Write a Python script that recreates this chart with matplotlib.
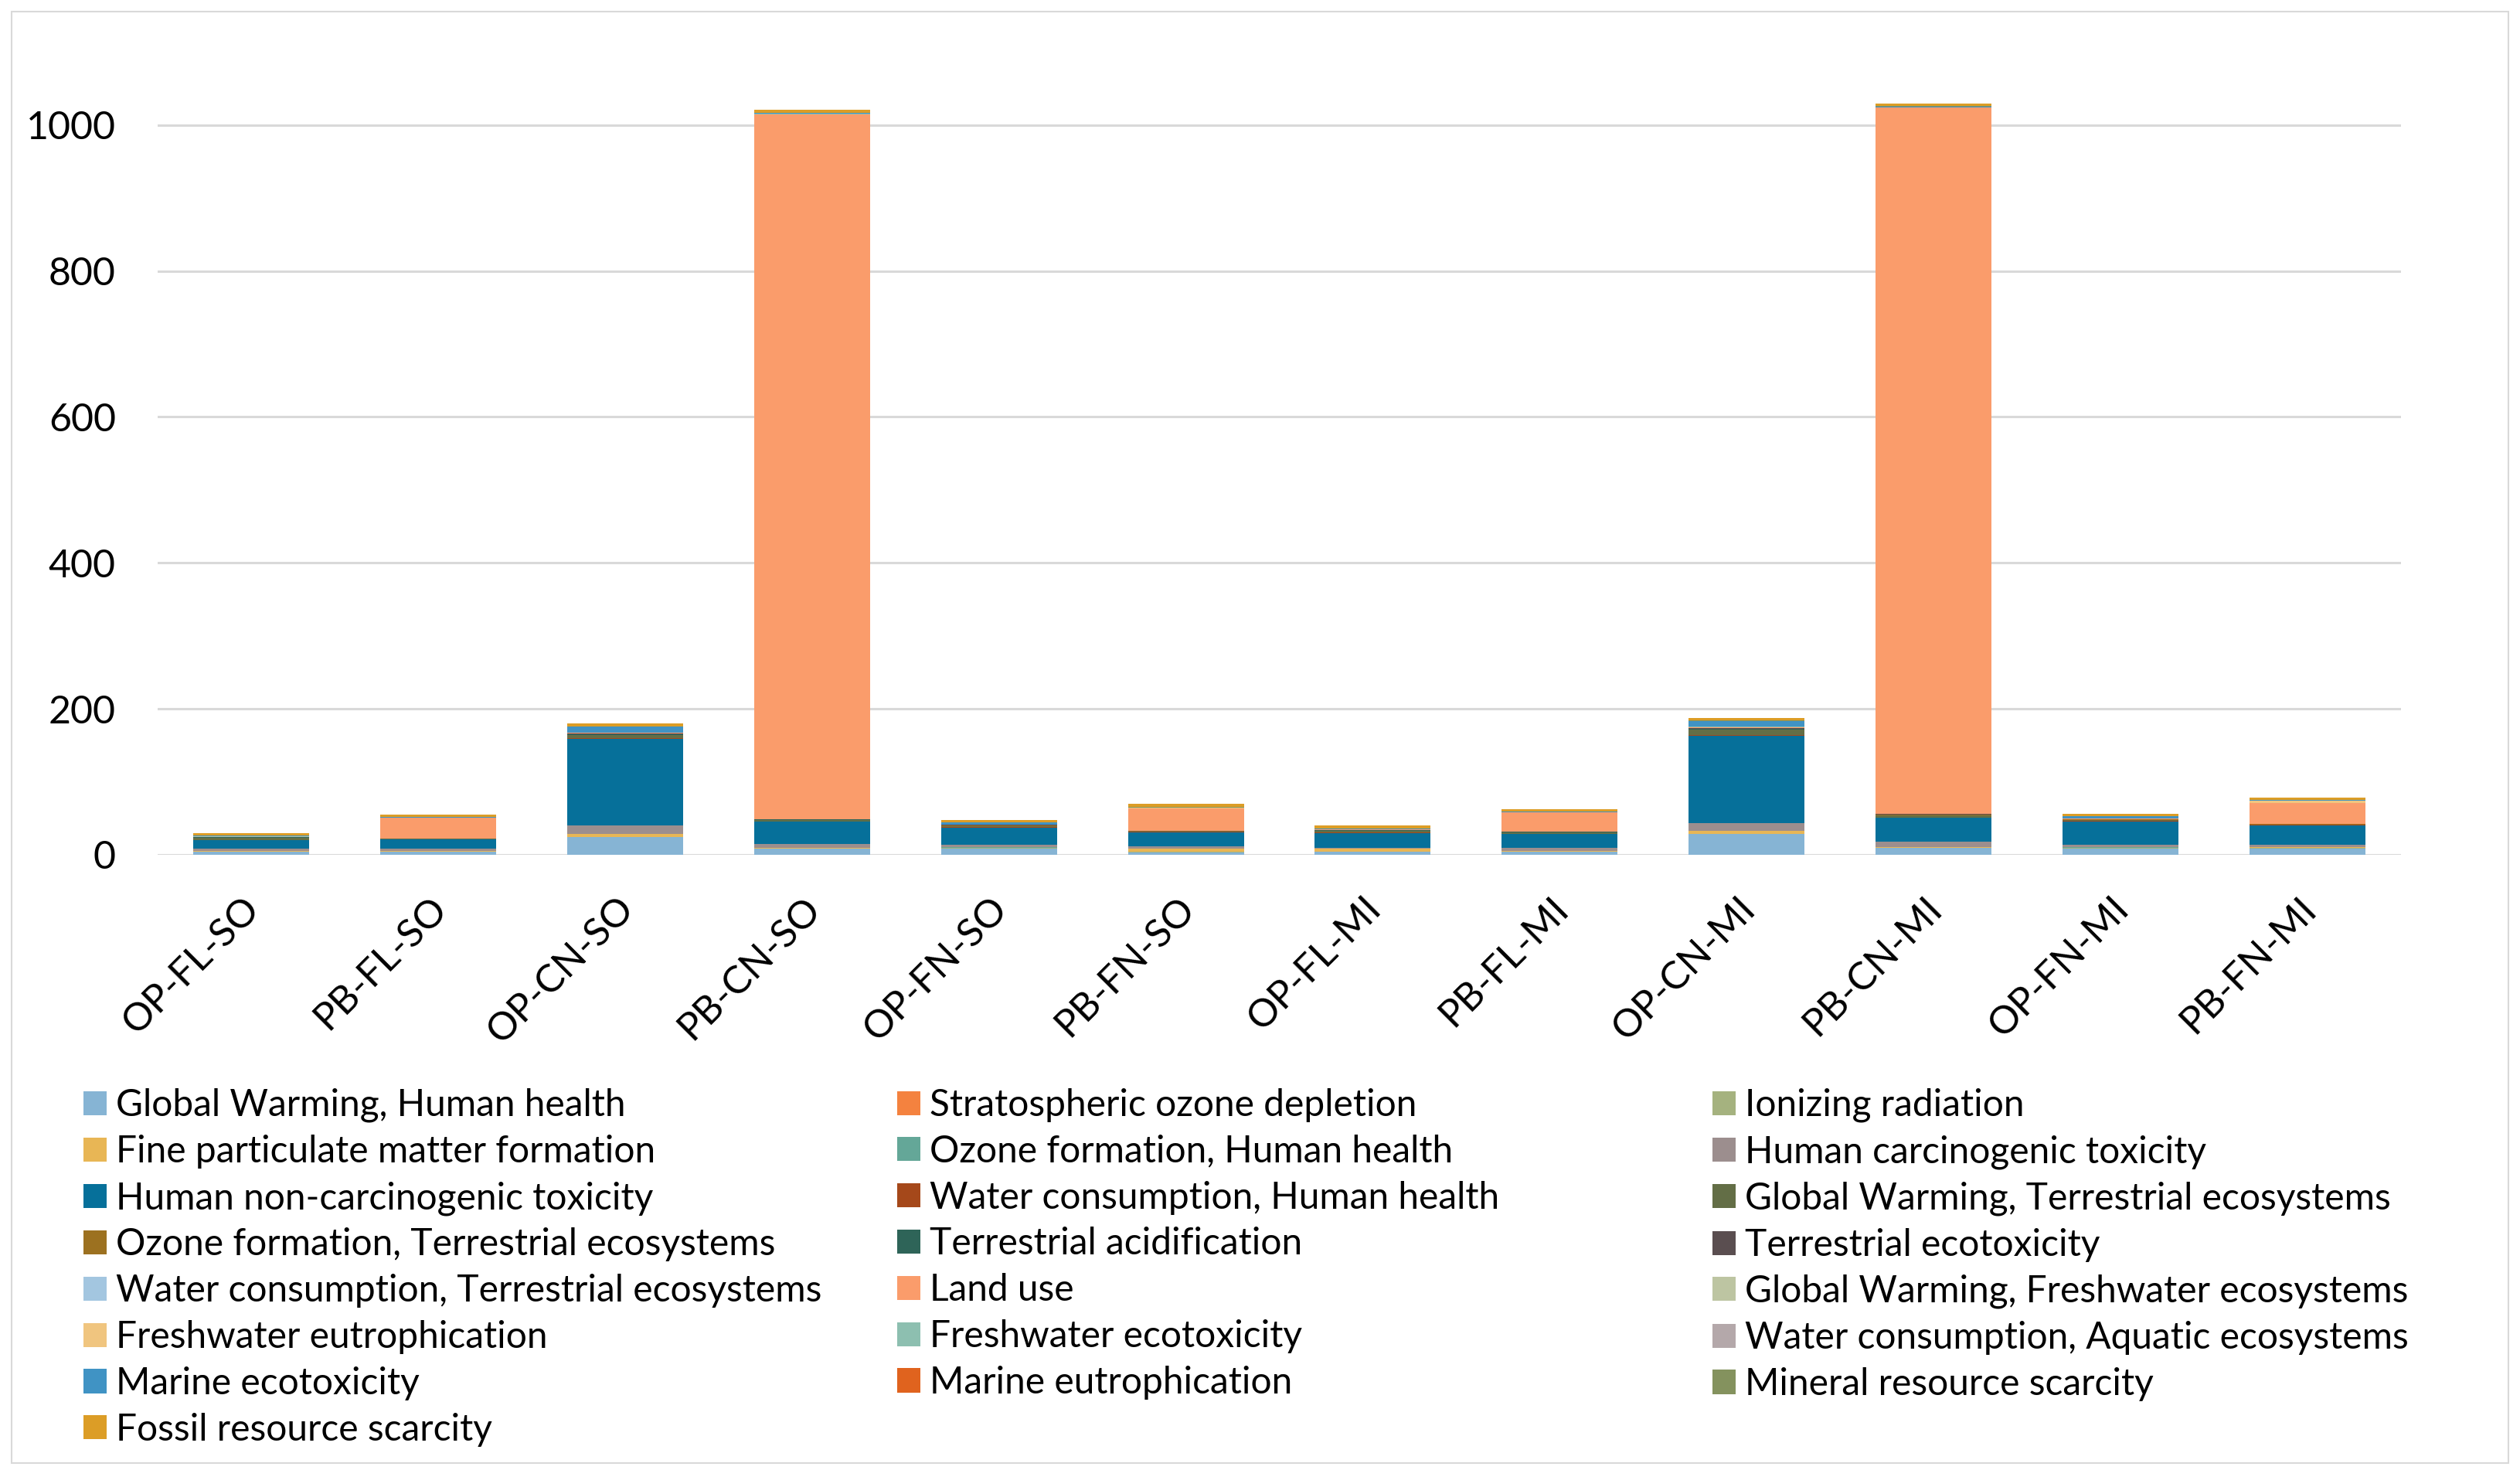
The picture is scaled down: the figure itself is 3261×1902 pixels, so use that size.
import numpy as np
import matplotlib
matplotlib.use("Agg")
import matplotlib.pyplot as plt
import matplotlib.transforms as mtransforms
from matplotlib.patches import Rectangle

plt.rcParams['font.family'] = ['Lato', 'DejaVu Sans']

# scenarier
scenarios = ['OP-FL-SO', 'PB-FL-SO', 'OP-CN-SO', 'PB-CN-SO', 'OP-FN-SO', 'PB-FN-SO',
             'OP-FL-MI', 'PB-FL-MI', 'OP-CN-MI', 'PB-CN-MI', 'OP-FN-MI', 'PB-FN-MI']

# kategorier (stapelordning nerifrån och upp)
categories = ['Global Warming, Human health', 'Stratospheric ozone depletion', 'Ionizing radiation',
              'Fine particulate matter formation', 'Ozone formation, Human health', 'Human carcinogenic toxicity',
              'Human non-carcinogenic toxicity', 'Water consumption, Human health', 'Global Warming, Terrestrial ecosystems',
              'Ozone formation, Terrestrial ecosystems', 'Terrestrial acidification', 'Terrestrial ecotoxicity',
              'Water consumption, Terrestrial ecosystems', 'Land use', 'Global Warming, Freshwater ecosystems',
              'Freshwater eutrophication', 'Freshwater ecotoxicity', 'Water consumption, Aquatic ecosystems',
              'Marine ecotoxicity', 'Marine eutrophication', 'Mineral resource scarcity',
              'Fossil resource scarcity']

colors = ['#86b4d4', '#f4823f', '#a5b27f', '#e8b655', '#64a798', '#9c8e8e',
          '#06709a', '#a5481a', '#636e46', '#9c7120', '#2e6458', '#5a4e50',
          '#a3c6e0', '#fa9c6b', '#bdc5a2', '#f0c57f', '#8dbfb0', '#b4a8aa',
          '#4093c4', '#e0631e', '#84925e', '#dc9d26']

# värden per kategori
gw_hh         = [4.0, 4.5, 24.0, 8.0, 8.8, 3.5, 4.5, 3.9, 28.2, 9.2, 8.8, 8.8]
strat_ozone   = [0.02, 0.02, 0.05, 0.05, 0.03, 0.03, 0.02, 0.02, 0.05, 0.05, 0.03, 0.03]
ionizing      = [0.1, 0.1, 0.3, 0.3, 0.2, 0.2, 0.1, 0.1, 0.3, 0.3, 0.2, 0.2]
fine_pm       = [0.8, 0.8, 4.0, 1.5, 1.0, 5.0, 3.5, 1.0, 4.6, 1.5, 1.0, 1.5]
ozone_hh      = [0.05, 0.05, 0.05, 0.05, 0.05, 0.05, 0.05, 0.05, 0.05, 0.05, 0.05, 0.05]
hum_carc      = [3.0, 3.5, 11.6, 4.5, 3.5, 3.0, 1.0, 4.2, 10.6, 7.0, 3.5, 3.5]
hum_noncarc   = [12.0, 12.0, 119.0, 31.0, 24.0, 19.4, 21.0, 19.4, 119.0, 32.4, 32.4, 26.4]
water_hh      = [0.3, 0.3, 1.0, 0.5, 0.5, 0.5, 0.3, 0.3, 1.0, 0.5, 0.5, 0.5]
gw_terr       = [3.0, 0.8, 4.0, 1.5, 1.5, 0.8, 2.5, 1.8, 7.7, 3.5, 1.5, 0.8]
ozone_terr    = [0.3, 0.2, 0.5, 0.3, 0.3, 0.2, 0.3, 0.2, 0.5, 0.3, 0.3, 0.2]
terr_acid     = [0.5, 0.2, 0.8, 0.5, 0.4, 0.3, 0.5, 0.3, 0.8, 0.5, 0.4, 0.3]
terr_ecotox   = [0.5, 0.2, 1.0, 0.3, 0.5, 0.3, 0.4, 0.3, 1.0, 0.3, 0.5, 0.3]
water_terr    = [0.01, 0.01, 0.01, 0.01, 0.01, 0.01, 0.01, 0.01, 0.01, 0.01, 0.01, 0.01]
land_use      = [0.3, 28.0, 0.5, 966.0, 0.4, 30.6, 0.3, 26.4, 0.5, 968.0, 0.4, 28.2]
gw_fresh      = [0.01, 0.01, 0.01, 0.01, 0.01, 0.01, 0.01, 0.01, 0.01, 0.01, 0.01, 0.01]
fresh_eutro   = [0.3, 0.3, 0.5, 0.5, 0.3, 0.3, 0.3, 0.3, 0.5, 0.5, 0.3, 3.5]
fresh_ecotox  = [0.2, 0.2, 0.5, 0.3, 0.2, 0.2, 0.2, 0.2, 0.5, 0.3, 0.2, 0.2]
water_aq      = [0.01, 0.01, 0.01, 0.01, 0.01, 0.01, 0.01, 0.01, 0.01, 0.01, 0.01, 0.01]
marine_ecotox = [1.0, 0.5, 7.7, 1.0, 2.5, 0.6, 0.8, 0.5, 8.1, 1.0, 2.8, 0.6]
marine_eutro  = [0.01, 0.01, 0.01, 0.01, 0.01, 0.01, 0.01, 0.01, 0.01, 0.01, 0.01, 0.01]
mineral       = [0.2, 0.2, 0.3, 0.3, 0.2, 0.2, 0.2, 0.2, 0.3, 0.3, 0.2, 0.2]
fossil        = [3.0, 2.8, 4.6, 4.0, 3.5, 4.2, 4.6, 3.5, 3.5, 4.0, 2.8, 3.5]

series = [gw_hh, strat_ozone, ionizing, fine_pm, ozone_hh, hum_carc, hum_noncarc, water_hh,
          gw_terr, ozone_terr, terr_acid, terr_ecotox, water_terr, land_use, gw_fresh,
          fresh_eutro, fresh_ecotox, water_aq, marine_ecotox, marine_eutro, mineral, fossil]

yticks = [0, 200, 400, 600, 800, 1000]
fs = 36
fs_leg = 34.5

W, H = 3261, 1902
fig = plt.figure(figsize=(W/100, H/100), dpi=100)
ax = fig.add_axes([204/W, 1-1106/H, (3107-204)/W, 1038.7/H])

x = np.arange(len(scenarios))
bottom = np.zeros(len(scenarios))
handles = []
for vals, col, lab in zip(series, colors, categories):
    b = ax.bar(x, vals, 0.62, bottom=bottom, color=col, label=lab, zorder=3)
    handles.append(b)
    bottom += np.array(vals)

ax.set_xlim(-0.5, len(scenarios)-0.5)
ax.set_ylim(0, 1100)
ax.set_yticks(yticks)
ax.set_yticklabels([str(t) for t in yticks], fontsize=fs)
ax.yaxis.grid(True, color='#d9d9d9', linewidth=2.2, zorder=0)
ax.tick_params(axis='y', length=0, pad=39)
ax.tick_params(axis='x', length=0, pad=33)
ax.set_xticks(x)
ax.set_xticklabels(scenarios, rotation=45, ha='right', va='top', fontsize=fs)
offset = mtransforms.ScaledTranslation(20/100, 0, fig.dpi_scale_trans)
for lbl in ax.get_xticklabels():
    lbl.set_transform(lbl.get_transform() + offset)
for s in ax.spines.values():
    s.set_visible(False)

# legend i tre kolumner, radvis ordning
col_x = [108, 1161, 2216]
for c in range(3):
    idx = list(range(c, len(categories), 3))
    leg = fig.legend([handles[i] for i in idx], [categories[i] for i in idx],
                     loc='upper left', bbox_to_anchor=(col_x[c]/W, 1-1408/H),
                     frameon=False, fontsize=fs_leg, borderpad=0, borderaxespad=0,
                     handlelength=0.62, handleheight=0.62, handletextpad=0.25,
                     labelspacing=0.33)

# ram runt diagrammet
fig.patches.append(Rectangle((15/W, 1-1893/H), (3246-15)/W, (1893-15)/H,
                             transform=fig.transFigure, fill=False,
                             edgecolor='#d9d9d9', linewidth=1.5))

fig.savefig('out.png', dpi=100)
